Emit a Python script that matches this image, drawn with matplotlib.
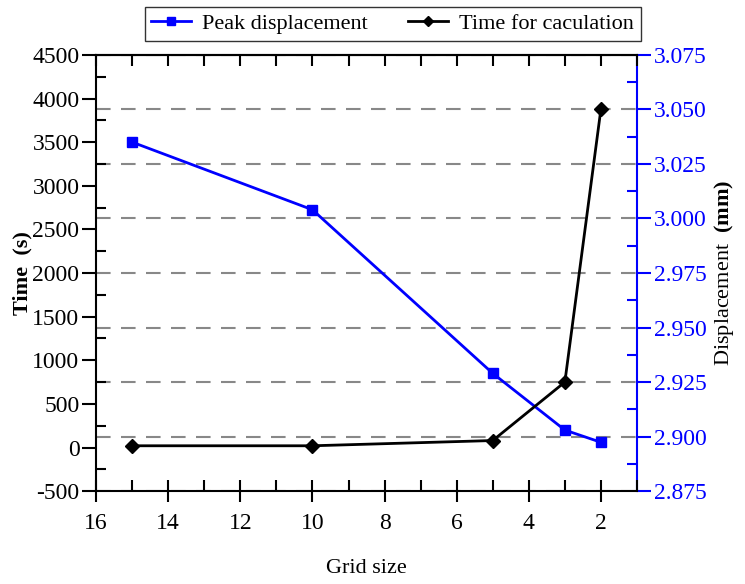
import numpy as np
import matplotlib
matplotlib.use('Agg')
import matplotlib.pyplot as plt
from matplotlib.ticker import MultipleLocator

plt.rcParams['font.family'] = 'Liberation Serif'
plt.rcParams['mathtext.fontset'] = 'custom'
plt.rcParams['mathtext.rm'] = 'Liberation Serif'
plt.rcParams['mathtext.bf'] = 'Liberation Serif:bold'
plt.rcParams['axes.unicode_minus'] = False

grid_size = [15, 10, 5, 3, 2]
peak_disp = [3.035, 3.004, 2.929, 2.903, 2.8974]
calc_time = [20, 20, 80, 750, 3880]

fig = plt.figure(figsize=(7.45, 5.84), dpi=100)
ax = fig.add_axes([0.129, 0.159, 0.726, 0.747])
ax2 = ax.twinx()

# black line above the dashed grid of the right axis
ax.set_zorder(ax2.get_zorder() + 1)
ax.patch.set_visible(False)

l1, = ax2.plot(grid_size, peak_disp, color='#0000ff', lw=2, marker='s', ms=7,
               label='Peak displacement')
l2, = ax.plot(grid_size, calc_time, color='black', lw=2, marker='D', ms=7,
              label='Time for caculation')

ax.set_xlim(16, 1)
ax.set_ylim(-500, 4500)
ax2.set_ylim(2.875, 3.075)

ax.xaxis.set_major_locator(MultipleLocator(2))
ax.xaxis.set_minor_locator(MultipleLocator(1))
ax.yaxis.set_major_locator(MultipleLocator(500))
ax.yaxis.set_minor_locator(MultipleLocator(250))
ax2.yaxis.set_major_locator(MultipleLocator(0.025))
ax2.yaxis.set_minor_locator(MultipleLocator(0.0125))
ax2.yaxis.set_major_formatter(plt.FormatStrFormatter('%.3f'))

ax.tick_params(axis='x', which='major', direction='inout', length=16, width=1.5,
               labelsize=17, pad=8)
ax.tick_params(axis='x', which='minor', direction='in', length=8, width=1.5)
ax.tick_params(axis='y', which='major', direction='out', length=10, width=1.5,
               labelsize=17, right=False, pad=2)
ax.tick_params(axis='y', which='minor', direction='in', length=7, width=1.5,
               right=False)
ax2.tick_params(axis='y', which='major', direction='out', length=10, width=1.5,
                labelsize=17, colors='#0000ff', pad=2)
ax2.tick_params(axis='y', which='minor', direction='in', length=7, width=1.5,
                colors='#0000ff')

top = ax.secondary_xaxis('top')
top.set_xticks(np.arange(1, 17))
top.set_xticklabels([])
top.tick_params(direction='in', length=8, width=1.5)
top.spines['top'].set_linewidth(1.5)

for s in ['left', 'bottom', 'top']:
    ax.spines[s].set_linewidth(1.5)
ax.spines['right'].set_visible(False)
ax2.spines['right'].set_color('#0000ff')
ax2.spines['right'].set_linewidth(1.5)
for s in ['left', 'bottom', 'top']:
    ax2.spines[s].set_visible(False)

ax2.grid(axis='y', which='major', color='#888888', linestyle=(0, (7, 5)), lw=1.5)

ax.set_xlabel('Grid size', fontsize=16, labelpad=18)
ax.set_ylabel('Time  (s)', fontsize=16, fontweight='bold', labelpad=0)
ax2.set_ylabel(r'Displacement  $\mathbf{(mm)}$', fontsize=16, labelpad=4)

leg = fig.legend(handles=[l1, l2], loc='center', bbox_to_anchor=(0.527, 0.959),
                 ncol=2, frameon=True, fancybox=False, edgecolor='black',
                 fontsize=16, handlelength=1.8, columnspacing=1.8,
                 borderpad=0.3, handletextpad=0.5, markerscale=0.8)
leg.get_frame().set_linewidth(1.0)

fig.savefig('out.png', dpi=100)
